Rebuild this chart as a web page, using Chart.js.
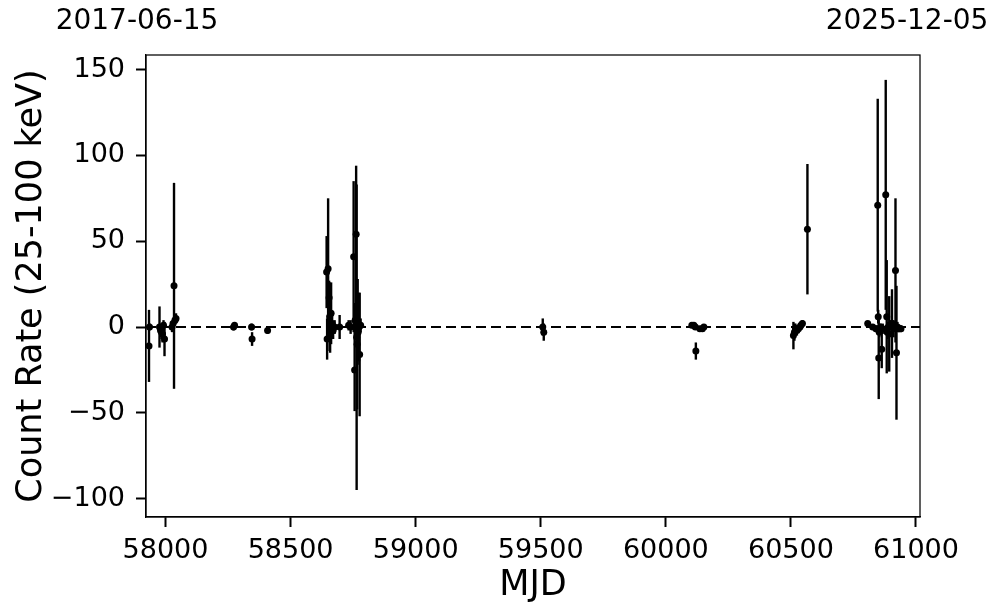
<!DOCTYPE html>
<html>
<head>
<meta charset="utf-8">
<script src="https://cdn.jsdelivr.net/npm/chart.js@4/dist/chart.umd.min.js"></script>
<style>
    html, body { margin: 0; padding: 0; background: #fff; }
    #wrap { width: 997px; height: 613px; position: relative; }
</style>
</head>
<body>
<div id="wrap"><canvas id="lc"></canvas></div>
<script>
// ================== DATA ==================
const mjd = [
    57934, 57936, 57976, 57980, 57984, 57988, 57992, 57996, 58026, 58030, 58034, 58038, 58042,
    58272, 58276, 58344, 58346, 58408,
    58644, 58646, 58650, 58654, 58656, 58658, 58662, 58666, 58670, 58676, 58696, 58732, 58740,
    58752, 58756, 58758, 58762, 58764, 58766, 58768, 58770, 58774, 58776, 58780,
    59508, 59512,
    60104, 60112, 60118, 60120, 60136, 60146, 60152,
    60510, 60514, 60518, 60524, 60530, 60536, 60540, 60546, 60566,
    60807, 60827, 60840, 60847, 60849, 60851, 60853, 60858, 60863, 60867, 60879, 60883, 60885,
    60889, 60893, 60897, 60904, 60910, 60918, 60922, 60926, 60932, 60940
];
const rate = [
    -11, 0, 0, -2, -3, -4, 1, -7, 0, 2, 24, 4, 5,
    0, 1, 0, -7, -2,
    32, -7, 34, 17, 6, 0, 8, 2, -2, 0, 0, 1, 0,
    41, -25, 4, 54, -6, -10, 3, -3, 0, -16, 1,
    0, -3,
    1, 1, 0, -14, -1, -1, 0,
    -5, -3, -1, -2, -1, 0, 1, 2, 57,
    2, 0, -1, 71, 6, -18, -3, 0, -13, -1, 77, 6, -3,
    0, -4, 1, 2, -1, 33, -15, 0, -1, -1
];
const rateErr = [
    21, 2, 12, 3, 4, 5, 3, 10, 3, 3, 60, 3, 3,
    2, 1, 2, 4, 2,
    21, 12, 41, 10, 20, 15, 18, 6, 5, 4, 7, 3, 4,
    44, 24, 10, 40, 89, 38, 25, 8, 20, 36, 4,
    5, 5,
    1, 1, 1, 5, 1, 1, 1,
    8, 5, 3, 3, 2, 2, 2, 2, 38,
    1, 1, 2, 62, 4, 24, 3, 2, 11, 3, 67, 33, 4,
    3, 22, 3, 20, 5, 42, 39, 3, 2, 2
];
const xTicks = [58000, 58500, 59000, 59500, 60000, 60500, 61000];
const yTicks = [-100, -50, 0, 50, 100, 150];
const dateStart = '2017-06-15';
const dateEnd = '2025-12-05';

const X_MIN = 57922, X_MAX = 61016;
const Y_MIN = -110.7, Y_MAX = 158.5;
const FONT = 'DejaVu Sans';

// ================== PLUGINS ==================
// vertical error bars, drawn through the chart's scales
const errorBarPlugin = {
    id: 'errorBars',
    beforeDatasetsDraw(chart) {
        const { ctx, scales: { x, y }, chartArea } = chart;
        ctx.save();
        ctx.beginPath();
        ctx.rect(chartArea.left, chartArea.top, chartArea.right - chartArea.left, chartArea.bottom - chartArea.top);
        ctx.clip();
        ctx.strokeStyle = '#000';
        ctx.lineWidth = 2.4;
        mjd.forEach((m, i) => {
            const px = x.getPixelForValue(m);
            ctx.beginPath();
            ctx.moveTo(px, y.getPixelForValue(rate[i] - rateErr[i]));
            ctx.lineTo(px, y.getPixelForValue(rate[i] + rateErr[i]));
            ctx.stroke();
        });
        ctx.restore();
    }
};

// frame around the plot and the date labels on top
const framePlugin = {
    id: 'frame',
    afterDraw(chart) {
        const { ctx, chartArea: a } = chart;
        ctx.save();
        ctx.strokeStyle = '#000';
        ctx.lineWidth = 1.25;
        ctx.strokeRect(a.left, a.top, a.right - a.left, a.bottom - a.top);
        ctx.fillStyle = '#000';
        ctx.font = `28px "${FONT}"`;
        ctx.textAlign = 'center';
        ctx.textBaseline = 'middle';
        ctx.fillText(dateStart, a.left - 9, 22);
        ctx.fillText(dateEnd, a.right - 13, 22);
        ctx.restore();
    }
};

// ================== CHART ==================
const points = mjd.map((m, i) => ({ x: m, y: rate[i] }));

new Chart(document.getElementById('lc'), {
    type: 'scatter',
    data: {
        datasets: [
            {
                data: points,
                backgroundColor: '#000',
                borderColor: '#000',
                pointRadius: 3.5,
                pointBorderWidth: 0,
                order: 1
            },
            {
                type: 'line',
                data: [{ x: X_MIN, y: 0 }, { x: X_MAX, y: 0 }],
                borderColor: '#000',
                borderWidth: 2.2,
                borderDash: [10, 5],
                pointRadius: 0,
                order: 0
            }
        ]
    },
    options: {
        responsive: true,
        maintainAspectRatio: false,
        animation: false,
        layout: { padding: { left: 0, top: 55, right: 77, bottom: 0 } },
        plugins: { legend: { display: false }, tooltip: { enabled: false } },
        scales: {
            x: {
                type: 'linear',
                min: X_MIN,
                max: X_MAX,
                afterBuildTicks: (s) => { s.ticks = xTicks.map(v => ({ value: v })); },
                afterFit: (s) => { s.height = 96; },
                grid: { drawOnChartArea: false, drawTicks: true, tickLength: 10, tickWidth: 2, tickColor: '#000' },
                border: { display: true, color: '#000', width: 1.25 },
                ticks: {
                    color: '#000',
                    padding: 8,
                    maxRotation: 0,
                    font: { family: FONT, size: 27 },
                    callback: (v) => String(v)
                },
                title: {
                    display: true,
                    text: 'MJD',
                    color: '#000',
                    font: { family: FONT, size: 35 },
                    padding: { top: 0, bottom: 6 }
                }
            },
            y: {
                min: Y_MIN,
                max: Y_MAX,
                afterBuildTicks: (s) => { s.ticks = yTicks.map(v => ({ value: v })); },
                afterFit: (s) => { s.width = 146; },
                grid: { drawOnChartArea: false, drawTicks: true, tickLength: 10, tickWidth: 2, tickColor: '#000' },
                border: { display: true, color: '#000', width: 1.25 },
                ticks: {
                    color: '#000',
                    padding: 11,
                    font: { family: FONT, size: 27 },
                    callback: (v) => String(v).replace('-', '\u2212')
                },
                title: {
                    display: true,
                    text: 'Count Rate (25-100 keV)',
                    color: '#000',
                    font: { family: FONT, size: 35 },
                    padding: { top: 11, bottom: 0 }
                }
            }
        }
    },
    plugins: [errorBarPlugin, framePlugin]
});
</script>
</body>
</html>
